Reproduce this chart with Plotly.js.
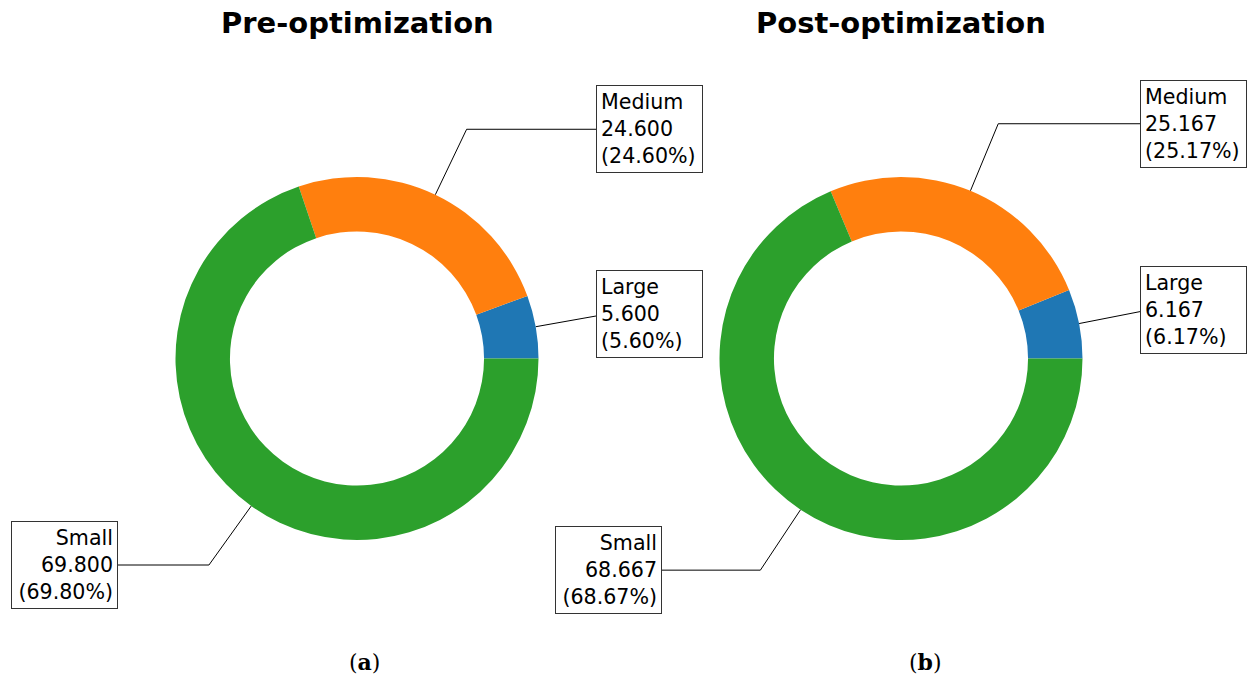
<!DOCTYPE html>
<html>
<head>
<meta charset="utf-8">
<script src="https://cdn.plot.ly/plotly-3.0.1.min.js"></script>
<style>html,body{margin:0;padding:0;background:#fff;}#chart{width:1256px;height:676px;}</style>
</head>
<body>
<div id="chart"></div>
<script>
// ---- data ----
const categories = ['Large', 'Medium', 'Small'];
const preValues = [5.6, 24.6, 69.8];
const postValues = [6.167, 25.167, 68.667];
const sliceColors = ['#1f77b4', '#ff7f0e', '#2ca02c'];
const chartTitles = ['Pre-optimization', 'Post-optimization'];
const panelLabels = ['(<b>a</b>)', '(<b>b</b>)'];

// ---- layout geometry (pixels) ----
const W = 1256, H = 676;
const centersX = [357, 901];
const centerY = 358.5;
const R = 181.5;
const AX = 1.5; // half-range of helper axes in radius units

const datasets = [preValues, postValues];
const traces = [];
const annotations = [];
const layout = {
  width: W, height: H,
  margin: {l: 0, r: 0, t: 0, b: 0},
  paper_bgcolor: '#fff', plot_bgcolor: 'rgba(0,0,0,0)',
  showlegend: false,
  hovermode: false,
  annotations: annotations
};

datasets.forEach(function (vals, k) {
  const cx = centersX[k];
  const sfx = k === 0 ? '' : '2';
  const total = vals.reduce((a, b) => a + b, 0);
  // pie: first slice starts at 3 o'clock and runs counterclockwise
  traces.push({
    type: 'pie',
    labels: categories,
    values: vals,
    sort: false,
    direction: 'counterclockwise',
    rotation: 90 - vals[0] / total * 360,
    hole: 0.7,
    textinfo: 'none',
    hoverinfo: 'skip',
    marker: {colors: sliceColors, line: {width: 0}},
    domain: {x: [(cx - R) / W, (cx + R) / W], y: [1 - (centerY + R) / H, 1 - (centerY - R) / H]}
  });
  // helper axes matching the pie
  layout['xaxis' + sfx] = {
    domain: [(cx - AX * R) / W, (cx + AX * R) / W], range: [-AX, AX],
    visible: false, fixedrange: true, anchor: 'y' + sfx
  };
  layout['yaxis' + sfx] = {
    domain: [1 - (centerY + AX * R) / H, 1 - (centerY - AX * R) / H], range: [-AX, AX],
    visible: false, fixedrange: true, anchor: 'x' + sfx
  };
  let cum = 0;
  vals.forEach(function (v, i) {
    const mid = (cum + v / 2) / total * 2 * Math.PI;
    cum += v;
    const x = Math.cos(mid), y = Math.sin(mid);
    const side = Math.sign(x) || 1;
    const tx = 1.35 * side, ty = 1.4 * y;
    const ex = 1.4 * x, ey = 1.4 * y;
    traces.push({
      type: 'scatter', mode: 'lines',
      x: [tx, ex, x], y: [ty, ey, y],
      xaxis: 'x' + sfx, yaxis: 'y' + sfx,
      line: {color: '#000', width: 1},
      hoverinfo: 'skip', showlegend: false
    });
    annotations.push({
      xref: 'x' + sfx, yref: 'y' + sfx,
      x: tx, y: ty,
      xanchor: side > 0 ? 'left' : 'right', yanchor: 'middle',
      xshift: side > 0 ? -6 : 6,
      align: side > 0 ? 'left' : 'right',
      showarrow: false,
      text: categories[i] + '<br>' + v.toFixed(3) + '<br>(' + (v / total * 100).toFixed(2) + '%)',
      font: {family: 'DejaVu Sans', size: 20.6, color: '#000'},
      width: 97,
      bgcolor: '#fff', bordercolor: '#333', borderwidth: 1, borderpad: 4
    });
  });
  // title
  annotations.push({
    xref: 'paper', yref: 'paper', x: cx / W, y: 1 - 23 / H,
    xanchor: 'center', yanchor: 'middle', showarrow: false,
    text: '<b>' + chartTitles[k] + '</b>',
    font: {family: 'DejaVu Sans', size: 29, color: '#000'}
  });
});

annotations.push({
  xref: 'paper', yref: 'paper', x: 364 / W, y: 1 - 662 / H,
  xanchor: 'center', yanchor: 'middle', showarrow: false,
  text: panelLabels[0], font: {family: 'DejaVu Serif', size: 22, color: '#000'}
});
annotations.push({
  xref: 'paper', yref: 'paper', x: 925 / W, y: 1 - 662 / H,
  xanchor: 'center', yanchor: 'middle', showarrow: false,
  text: panelLabels[1], font: {family: 'DejaVu Serif', size: 22, color: '#000'}
});

Plotly.newPlot('chart', traces, layout, {staticPlot: true, displayModeBar: false});
</script>
</body>
</html>
